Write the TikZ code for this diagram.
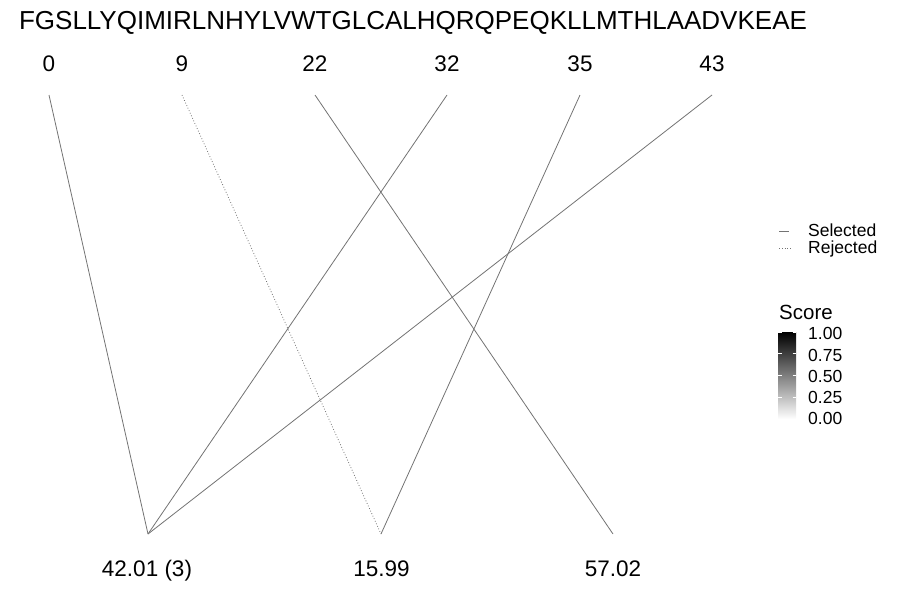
\documentclass[tikz,border=0pt]{standalone}
\usepackage{fontspec}
\setmainfont{Liberation Sans}
\begin{document}
\begin{tikzpicture}[x=1pt,y=-1pt,
  conn/.style={draw=black!55, line width=0.8pt},
  rej/.style={conn, dotted},
  lab/.style={font=\fontsize{22.5}{26}\selectfont, inner sep=0pt, anchor=base},
  leg/.style={font=\fontsize{17.5}{20}\selectfont, inner sep=0pt, anchor=base west}]
\useasboundingbox (0,0) rectangle (900,600);
\node[font=\fontsize{26}{30}\selectfont, inner sep=0pt, anchor=base] (seq) at (413,29.5) {FGSLLYQIMIRLNHYLVWTGLCALHQRQPEQKLLMTHLAADVKEAE};
% top labels
\node[lab] (l0) at (49,71.5) {0};
\node[lab] (l9) at (182,71.5) {9};
\node[lab] (l22) at (315,71.5) {22};
\node[lab] (l32) at (447,71.5) {32};
\node[lab] (l35) at (580,71.5) {35};
\node[lab] (l43) at (712,71.5) {43};
% top endpoints
\coordinate (t0) at (49,95);
\coordinate (t9) at (182,95);
\coordinate (t22) at (315,95);
\coordinate (t32) at (447,95);
\coordinate (t35) at (580,95);
\coordinate (t43) at (712,95);
% bottom endpoints
\coordinate (b1) at (148,534);
\coordinate (b2) at (381,534);
\coordinate (b3) at (613,534);
\node[lab] (m1) at (147,576.5) {42.01 (3)};
\node[lab] (m2) at (381.5,576.5) {15.99};
\node[lab] (m3) at (613,576.5) {57.02};
% connectors
\draw[conn] (t0) -- (b1);
\draw[rej] (t9) -- (b2);
\draw[conn] (t22) -- (b3);
\draw[conn] (t32) -- (b1);
\draw[conn] (t35) -- (b2);
\draw[conn] (t43) -- (b1);
% legend
\coordinate (s1) at (779,231);
\coordinate (s2) at (789,231);
\draw[conn] (s1) -- (s2);
\node[leg] (sel) at (808,236.5) {Selected};
\coordinate (r1) at (779,248);
\coordinate (r2) at (791,248);
\draw[rej] (r1) -- (r2);
\node[leg] (rejl) at (808,253.5) {Rejected};
% colorbar
\node[font=\fontsize{20.5}{24}\selectfont, inner sep=0pt, anchor=base west] (sc) at (779,319) {Score};
\shade[bottom color=white, top color=black] (778,332) rectangle (796,419);
\foreach \y in {332,353.75,375.5,397.25,419} {
  \draw[white, line width=0.6pt] (778,\y) -- (781.5,\y);
  \draw[white, line width=0.6pt] (792.5,\y) -- (796,\y);
}
\node[leg] (c1) at (808,339.5) {1.00};
\node[leg] (c2) at (808,361) {0.75};
\node[leg] (c3) at (808,382.5) {0.50};
\node[leg] (c4) at (808,403.5) {0.25};
\node[leg] (c5) at (808,424.5) {0.00};
\end{tikzpicture}
\end{document}
